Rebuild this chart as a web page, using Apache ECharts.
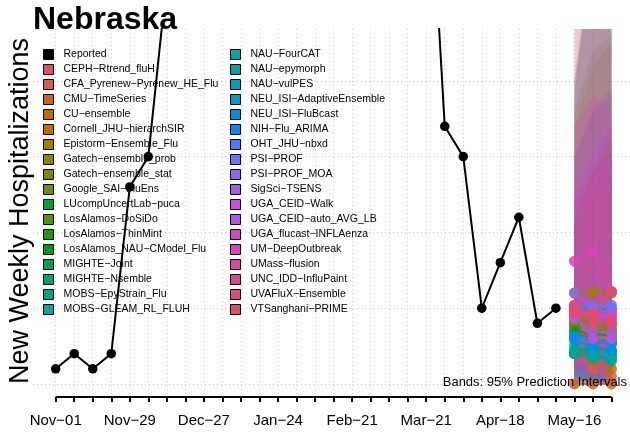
<!DOCTYPE html>
<html>
<head>
<meta charset="utf-8">
<script src="https://cdn.jsdelivr.net/npm/echarts@6/dist/echarts.min.js"></script>
<style>
html, body { margin: 0; padding: 0; background: #fff; }
#chart { width: 630px; height: 432px; }
</style>
</head>
<body>
<div id="chart"></div>
<script>
// week labels (Saturdays), index = week number from Nov-01
const weekLabels = ['Nov-01', 'Nov-08', 'Nov-15', 'Nov-22', 'Nov-29', 'Dec-06', 'Dec-13', 'Dec-20',
  'Dec-27', 'Jan-03', 'Jan-10', 'Jan-17', 'Jan-24', 'Jan-31', 'Feb-07', 'Feb-14', 'Feb-21', 'Feb-28',
  'Mar-07', 'Mar-14', 'Mar-21', 'Mar-28', 'Apr-04', 'Apr-11', 'Apr-18', 'Apr-25', 'May-02', 'May-09',
  'May-16', 'May-23', 'May-30'];
const labelWeeks = [0, 4, 8, 12, 16, 20, 24, 28];
const gridValues = [0, 50, 100, 150, 200];

// reported weekly hospitalizations, Nov-01 .. May-09 (peak is off the top of the plot)
const reported = [10, 20, 10, 20, 130, 150, 267, 420, 560, 640, 600, 530, 480, 450, 460, 490,
  520, 510, 480, 430, 382, 170, 150, 50, 80, 110, 40, 50];

// forecast targets: May-16, May-23, May-30
const forecastWeeks = [28, 29, 30];

const models = ['CEPH-Rtrend_fluH', 'CFA_Pyrenew-Pyrenew_HE_Flu', 'CMU-TimeSeries', 'CU-ensemble',
  'Cornell_JHU-hierarchSIR', 'Epistorm-Ensemble_Flu', 'Gatech-ensemble_prob', 'Gatech-ensemble_stat',
  'Google_SAI-FluEns', 'LUcompUncertLab-puca', 'LosAlamos-DoSiDo', 'LosAlamos-ThinMint',
  'LosAlamos_NAU-CModel_Flu', 'MIGHTE-Joint', 'MIGHTE-Nsemble', 'MOBS-EpyStrain_Flu',
  'MOBS-GLEAM_RL_FLUH', 'NAU-FourCAT', 'NAU-epymorph', 'NAU-vulPES', 'NEU_ISI-AdaptiveEnsemble',
  'NEU_ISI-FluBcast', 'NIH-Flu_ARIMA', 'OHT_JHU-nbxd', 'PSI-PROF', 'PSI-PROF_MOA', 'SigSci-TSENS',
  'UGA_CEID-Walk', 'UGA_CEID-auto_AVG_LB', 'UGA_flucast-INFLAenza', 'UM-DeepOutbreak',
  'UMass-flusion', 'UNC_IDD-InfluPaint', 'UVAFluX-Ensemble', 'VTSanghani-PRIME'];

const medians = [[45, 40, 40], [30, 10, 5], [0, 0, 0], [20, 15, 10], [40, 35, 30], [60, 61, 60],
  [45, 42, 40], [40, 38, 36], [42, 40, 38], [51, 50, 48], [38, 36, 35], [35, 33, 32], [33, 30, 28],
  [21, 24, 22], [20, 18, 17], [22, 20, 17], [20, 17, 15], [30, 22, 20], [25, 20, 18], [30, 21, 21],
  [31, 28, 26], [29, 25, 22], [32, 30, 28], [50, 51, 50], [52, 51, 52], [60, 50, 47], [48, 45, 44],
  [44, 30, 30], [43, 35, 34], [46, 47, 45], [81, 87, 61], [50, 45, 40], [47, 43, 40], [52, 40, 42],
  [48, 46, 61]];

const lowers = [[10, 5, 3], [2, 0, 0], [0, 0, 0], [0, 0, 0], [5, 2, 0], [10, 5, 3], [15, 10, 8],
  [12, 8, 6], [10, 6, 4], [5, 0, 0], [10, 8, 5], [10, 8, 6], [8, 5, 3], [3, 2, 1], [3, 2, 1],
  [5, 3, 2], [4, 2, 1], [5, 3, 2], [0, 0, 0], [4, 2, 1], [8, 5, 3], [6, 4, 2], [2, 0, 0],
  [15, 10, 8], [15, 12, 10], [15, 10, 8], [10, 8, 5], [2, 0, 0], [8, 5, 3], [0, 0, 0],
  [20, 15, 10], [10, 6, 4], [5, 2, 0], [12, 8, 5], [12, 10, 10]];

const uppers = [[120, 140, 160], [150, 180, 195], [240, 330, 400], [180, 220, 230], [170, 210, 225],
  [195, 290, 350], [110, 130, 150], [100, 120, 140], [110, 140, 160], [200, 300, 360],
  [100, 120, 135], [90, 110, 125], [110, 140, 160], [80, 95, 110], [85, 100, 110], [95, 110, 125],
  [100, 120, 140], [90, 110, 130], [150, 180, 190], [95, 115, 130], [105, 125, 145], [110, 140, 160],
  [190, 290, 340], [120, 150, 170], [115, 135, 155], [110, 130, 150], [125, 150, 170],
  [150, 185, 195], [130, 160, 180], [300, 340, 360], [170, 190, 180], [120, 140, 160],
  [200, 280, 330], [100, 120, 130], [115, 140, 165]];

const modelColors = ['#E0505E', '#DA5A48', '#CC6418', '#BF6E00', '#C56A00', '#9A8200', '#8A8400',
  '#7A8A00', '#6A9000', '#00A040', '#559400', '#209800', '#009A10', '#00A050', '#00A46C', '#00A584',
  '#00A698', '#00A6A8', '#00A3A0', '#00A0C0', '#0098D0', '#0090E0', '#1088E8', '#4A7CF0', '#6E72F4',
  '#8A68F0', '#A060E8', '#C850D8', '#B058E0', '#D048C8', '#D844B4', '#DC44A0', '#E0448A', '#E24A78',
  '#E04E66'];

const yMin = -8.6, yMax = 234.2;
const minus = s => s.replace(/-/g, '\u2212');
const font = 'Liberation Sans';

const chart = echarts.init(document.getElementById('chart'));

function bandItem(params, api) {
  const cs = params.coordSys;
  const a = api.coord([api.value(0), api.value(1)]);
  const b = api.coord([api.value(3), api.value(4)]);
  const c = api.coord([api.value(3), api.value(5)]);
  const d = api.coord([api.value(0), api.value(2)]);
  return {
    type: 'group',
    clipPath: { type: 'rect', shape: { x: cs.x, y: cs.y, width: cs.width, height: cs.height } },
    children: [{
      type: 'polygon',
      shape: { points: [a, b, c, d] },
      style: { fill: echarts.color.modifyAlpha(api.visual('color'), 0.18), stroke: null }
    }]
  };
}

let series = [];
// prediction interval bands
models.forEach((m, i) => {
  let segs = [];
  for (let j = 0; j < forecastWeeks.length - 1; j++) {
    segs.push([forecastWeeks[j], lowers[i][j], uppers[i][j],
      forecastWeeks[j + 1], lowers[i][j + 1], uppers[i][j + 1]]);
  }
  series.push({
    name: m + ' band',
    type: 'custom',
    renderItem: bandItem,
    data: segs,
    encode: { x: [0, 3], y: [1, 2, 4, 5] },
    itemStyle: { color: modelColors[i] },
    silent: true,
    z: 1
  });
});
// medians
models.forEach((m, i) => {
  series.push({
    name: m,
    type: 'line',
    data: forecastWeeks.map((w, j) => [w, medians[i][j]]),
    symbol: 'circle',
    symbolSize: 11,
    lineStyle: { width: 2, color: modelColors[i], opacity: 0.85 },
    itemStyle: { color: modelColors[i], opacity: 0.85 },
    z: 3
  });
});
// reported
series.push({
  name: 'Reported',
  type: 'line',
  data: reported.map((v, i) => [i, v]),
  symbol: 'circle',
  symbolSize: 9.5,
  lineStyle: { width: 2, color: '#000' },
  itemStyle: { color: '#000' },
  z: 4
});
// bottom axis line, spanning first to last tick only
series.push({
  name: 'axis',
  type: 'line',
  data: [],
  clip: false,
  markLine: {
    silent: true,
    symbol: ['none', 'none'],
    label: { show: false },
    lineStyle: { color: '#000', width: 2, type: 'solid' },
    data: [[{ coord: [0, yMin] }, { coord: [weekLabels.length - 1, yMin] }]]
  }
});

const legendNames = ['Reported'].concat(models);
const legendBase = {
  orient: 'vertical',
  top: 49,
  padding: 0,
  icon: 'rect',
  itemWidth: 10,
  itemHeight: 10,
  itemGap: 4,
  itemStyle: { borderColor: '#000', borderWidth: 1, opacity: 1 },
  formatter: minus,
  textStyle: { fontFamily: font, fontSize: 10.5, color: '#000', padding: [0, 0, 0, 5] }
};

let option = {
  animation: false,
  backgroundColor: '#fff',
  title: {
    text: 'Nebraska',
    left: 33,
    top: 4,
    padding: 0,
    textStyle: { fontFamily: font, fontSize: 32, fontWeight: 'bold', color: '#000' }
  },
  legend: [
    Object.assign({}, legendBase, { left: 43, data: legendNames.slice(0, 18) }),
    Object.assign({}, legendBase, { left: 230, data: legendNames.slice(18) })
  ],
  grid: { left: 33, right: 0, top: 29, bottom: 35 },
  xAxis: {
    type: 'value',
    min: -1.225,
    max: 31.0,
    axisLine: { show: false, onZero: false },
    axisTick: {
      show: true,
      customValues: weekLabels.map((_, i) => i),
      length: 5,
      lineStyle: { color: '#000', width: 2 }
    },
    axisLabel: {
      customValues: labelWeeks,
      formatter: v => minus(weekLabels[v]),
      fontFamily: font,
      fontSize: 15,
      color: '#000',
      margin: 16
    },
    splitLine: { show: true, lineStyle: { color: '#c8c8c8', width: 1, type: [1, 3] } }
  },
  yAxis: {
    type: 'value',
    min: yMin,
    max: yMax,
    axisLine: { show: false },
    axisTick: { show: false, customValues: gridValues },
    axisLabel: { show: false, customValues: gridValues },
    splitLine: { show: true, lineStyle: { color: '#c8c8c8', width: 1, type: [1, 3] } }
  },
  graphic: [
    {
      type: 'text',
      x: 20.5,
      y: 211,
      rotation: Math.PI / 2,
      z: 100,
      style: {
        text: 'New Weekly Hospitalizations',
        font: '27px "Liberation Sans"',
        fill: '#000',
        align: 'center', verticalAlign: 'middle',
        textAlign: 'center', textVerticalAlign: 'middle'
      }
    },
    {
      type: 'text',
      x: 627,
      y: 382,
      z: 100,
      style: {
        text: 'Bands: 95% Prediction Intervals',
        font: '13px "Liberation Sans"',
        fill: '#000',
        align: 'right', verticalAlign: 'middle',
        textAlign: 'right', textVerticalAlign: 'middle'
      }
    }
  ],
  series: series
};

chart.setOption(option);
</script>
</body>
</html>
